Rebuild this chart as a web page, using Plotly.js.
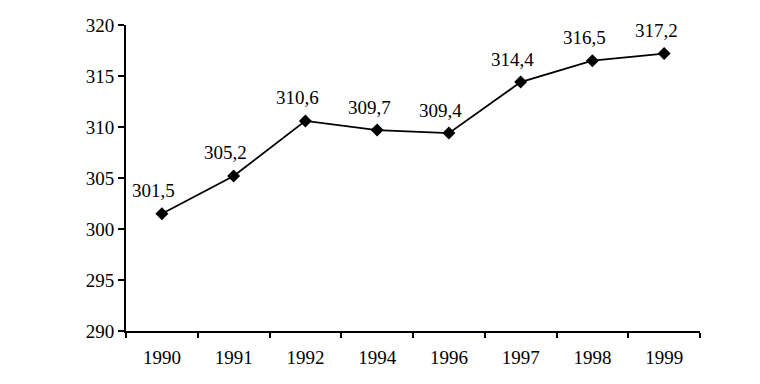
<!DOCTYPE html>
<html>
<head>
<meta charset="utf-8">
<script src="https://cdn.plot.ly/plotly-3.0.1.min.js"></script>
<style>html,body{margin:0;padding:0;background:#fff;}#chart{width:760px;height:384px;}</style>
</head>
<body>
<div id="chart"></div>
<script>
var years = ['1990', '1991', '1992', '1994', '1996', '1997', '1998', '1999'];
var values = [301.5, 305.2, 310.6, 309.7, 309.4, 314.4, 316.5, 317.2];
var labels = ['301,5', '305,2', '310,6', '309,7', '309,4', '314,4', '316,5', '317,2'];
var yTicks = [290, 295, 300, 305, 310, 315, 320];

var fontFam = '"Liberation Serif", "Times New Roman", serif';

var lineTrace = {
  x: years,
  y: values,
  type: 'scatter',
  mode: 'lines+markers',
  line: {color: '#000', width: 1.8},
  marker: {symbol: 'diamond', size: 10, color: '#000'},
  hoverinfo: 'skip',
  cliponaxis: false
};

var annotations = labels.map(function (lab, i) {
  return {
    x: i, y: values[i], xref: 'x', yref: 'y',
    text: lab, showarrow: false,
    xshift: -8, yshift: 23,
    font: {family: fontFam, size: 19, color: '#000'}
  };
});

var layout = {
  width: 760, height: 384,
  margin: {l: 126, r: 60, t: 25, b: 53},
  paper_bgcolor: '#fff', plot_bgcolor: '#fff',
  showlegend: false,
  font: {family: fontFam, size: 19, color: '#000'},
  xaxis: {
    type: 'category', range: [-0.5, 7.5],
    showgrid: false, zeroline: false,
    showline: true, linecolor: '#000', linewidth: 2,
    ticks: 'outside', tickson: 'boundaries', ticklen: 5, tickwidth: 2, tickcolor: '#000',
    ticklabelstandoff: 8,
    tickfont: {family: fontFam, size: 19, color: '#000'}
  },
  yaxis: {
    range: [290, 320], tickvals: yTicks, ticktext: yTicks.map(String),
    showgrid: false, zeroline: false,
    showline: true, linecolor: '#000', linewidth: 2,
    ticks: 'outside', ticklen: 6, tickwidth: 2, tickcolor: '#000',
    tickfont: {family: fontFam, size: 19, color: '#000'}
  },
  annotations: annotations
};

Plotly.newPlot('chart', [lineTrace], layout, {displayModeBar: false, staticPlot: true});
</script>
</body>
</html>
